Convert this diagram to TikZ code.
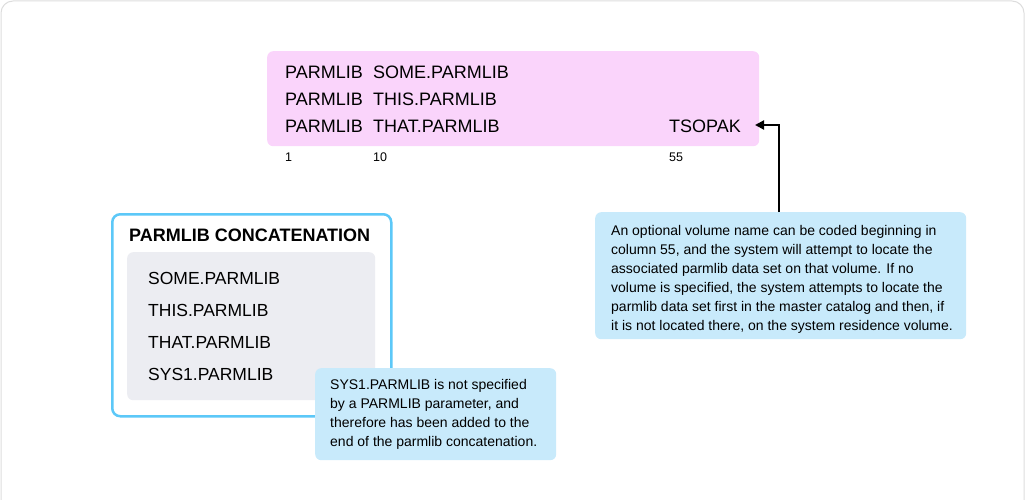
\documentclass[tikz,border=0pt]{standalone}
\usepackage{fontspec}
\setmainfont{Liberation Sans}
\usetikzlibrary{arrows.meta}
\definecolor{pinkfill}{HTML}{FAD4FB}
\definecolor{calloutfill}{HTML}{C8EAFB}
\definecolor{framecol}{HTML}{5CC8F8}
\definecolor{grayfill}{HTML}{ECEDF2}
\definecolor{cardline}{HTML}{DDDDDD}
\tikzset{
  code/.style={anchor=base west, inner sep=0pt, font=\fontsize{18}{18}\selectfont},
  listitem/.style={anchor=base west, inner sep=0pt, font=\fontsize{17.5}{18}\selectfont},
  colnum/.style={anchor=base west, inner sep=0pt, font=\fontsize{12.5}{12.5}\selectfont},
  callout/.style={fill=calloutfill, rounded corners=6pt, draw=none},
  callouttext/.style={anchor=north west, inner sep=0pt, align=left, font=\fontsize{14}{19}\selectfont},
  connector/.style={draw=black, line width=2pt, -{Triangle[length=9pt,width=9pt]}},
}
\begin{document}
\begin{tikzpicture}[x=1pt,y=-1pt]
\useasboundingbox (0,0) rectangle (1025,500);
% card border
\draw[cardline, line width=1pt, rounded corners=12pt] (1,1) rectangle (1024,520);

% pink box
\node[fill=pinkfill, rounded corners=6pt, minimum width=492pt, minimum height=95pt, anchor=north west, inner sep=0pt] (pink) at (267,51) {};
\node[code] (p1) at (285,78.5) {PARMLIB};
\node[code] (d1) at (373,78.5) {SOME.PARMLIB};
\node[code] (p2) at (285,105.5) {PARMLIB};
\node[code] (d2) at (373,105.5) {THIS.PARMLIB};
\node[code] (p3) at (285,132.5) {PARMLIB};
\node[code] (d3) at (373,132.5) {THAT.PARMLIB};
\node[code] (vol) at (669,132.5) {TSOPAK};
\node[colnum] (c1) at (285,161) {1};
\node[colnum] (c10) at (373,161) {10};
\node[colnum] (c55) at (669,161) {55};

% right callout
\node[callout, minimum width=371pt, minimum height=127pt, anchor=north west, inner sep=0pt] (rc) at (595,212) {};
\node[callouttext] (rctext) at (611,225.5) {An optional volume name can be coded beginning in\\column 55, and the system will attempt to locate the\\associated parmlib data set on that volume. If no\\volume is specified, the system attempts to locate the\\parmlib data set first in the master catalog and then, if\\it is not located there, on the system residence volume.};
\coordinate (bend) at (779,125);
\coordinate (rctop) at (779,212);
\coordinate (tip) at (755,125);
\draw[connector] (rctop) -- (bend) -- (tip);

% left box
\node[draw=framecol, line width=2.5pt, fill=white, rounded corners=8pt, minimum width=279pt, minimum height=202pt, anchor=north west, inner sep=0pt] (concat) at (111,213) {};
\node[anchor=base west, inner sep=0pt, font=\fontsize{18}{18}\selectfont\bfseries] (title) at (129,241.5) {PARMLIB CONCATENATION};
\node[fill=grayfill, rounded corners=6pt, minimum width=248pt, minimum height=148pt, anchor=north west, inner sep=0pt] (gray) at (127,252) {};
\node[listitem] (l1) at (148,284.5) {SOME.PARMLIB};
\node[listitem] (l2) at (148,316.5) {THIS.PARMLIB};
\node[listitem] (l3) at (148,348.5) {THAT.PARMLIB};
\node[listitem] (l4) at (148,380.5) {SYS1.PARMLIB};

% bottom callout
\node[callout, minimum width=241pt, minimum height=92pt, anchor=north west, inner sep=0pt] (bc) at (315,368) {};
\node[callouttext] (bctext) at (330,379.5) {SYS1.PARMLIB is not specified\\by a PARMLIB parameter, and\\therefore has been added to the\\end of the parmlib concatenation.};
\end{tikzpicture}
\end{document}
